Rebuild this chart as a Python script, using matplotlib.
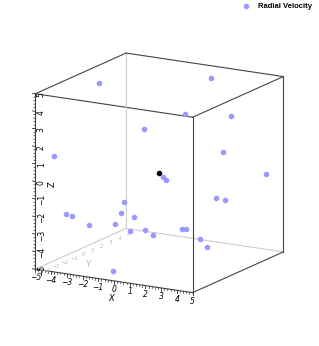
import numpy as np
import matplotlib.pyplot as plt
from mpl_toolkits.mplot3d import proj3d

# positions (depth is a guess)
px = [-4.4, 1.0, 2.8, 4.0, -2.1, -4.4, 0.25, 0.4, 3.5, 4.5, 3.0, 3.0, -4.0, -3.0,
      -4.2, -3.8, -2.2, -2.8, -3.3, -2.45, -1.5, -1.0, 0.86, 1.1, 2.6, 3.0, -0.65]
py = [1, 4, -2, 1, 2, -4, 0, 0, 1, 4, 1, 2, 3, 1,
      -3, -3, 1, 0, -2, 1, 1, 1, 1, 1, 0, 0, -4]
pz = [4.3, 4.6, 4.2, 3.55, 1.75, 1.3, -0.2, -0.35, 1.45, -0.4, -1.25, -1.6, -2.9, -2.9,
      -2.2, -2.3, -3.05, -3.3, -2.95, -3.9, -3.7, -3.9, -3.3, -3.3, -3.45, -3.8, -4.75]
sun = [0.0, 0.0, 0.0]
ticks = list(range(-5, 6))
minor = np.arange(-5, 5.01, 0.2)
lim = 5

fig = plt.figure(figsize=(3.19, 3.46), dpi=100)
ax = fig.add_axes([-0.014, -0.012, 1, 1], projection="3d", proj_type="ortho")
ax.view_init(elev=15, azim=-60)
ax.set_xlim(-lim, lim)
ax.set_ylim(-lim, lim)
ax.set_zlim(-lim, lim)
ax.set_box_aspect((1, 1, 1), zoom=0.957)
ax.set_axis_off()

# box edges: the three meeting at (-5, 5, -5) are behind
lo, hi = -lim, lim
corner = (lo, hi, lo)
for i in (lo, hi):
    for j in (lo, hi):
        for seg in (([lo, hi], [i, i], [j, j]),
                    ([i, i], [lo, hi], [j, j]),
                    ([i, i], [j, j], [lo, hi])):
            back = all(corner[k] in seg[k] for k in range(3))
            ax.plot(*seg, color="#cccccc" if back else "#444444", lw=0.8)

# tick marks on the front bottom edge (x) and front left edge (z)
for t in minor:
    major = abs(t - round(t)) < 1e-6
    ln = 0.16 if major else 0.09
    w = 0.6 if major else 0.45
    ax.plot([t, t], [lo, lo], [lo, lo - ln], color="#222222", lw=w)
    ax.plot([lo, lo - ln * 1.1], [lo, lo], [t, t], color="#222222", lw=w)

ax.scatter(px, py, pz, s=9, color="#9999ff", depthshade=False, label="Radial Velocity")
ax.scatter(*[[v] for v in sun], s=9, color="black", depthshade=False)

# labels: project the 3D anchor once, then place as plain 2D text
M = ax.get_proj()


def label3d(x, y, z, s, **kw):
    u, v, _ = proj3d.proj_transform(x, y, z, M)
    ax.text2D(float(u), float(v), s, transform=ax.transData,
              ha="center", va="center", **kw)


fs = 5.5
for t in ticks:
    lab = str(t).replace("-", "\u2212")
    label3d(t, lo, lo - 0.5, lab, fontsize=fs, style="italic")
    label3d(lo + 0.38, lo, t, lab, fontsize=fs, rotation=90)
    label3d(lo + 0.15, t, lo - 0.3, lab, fontsize=4, color="#bbbbbb", style="italic")
label3d(-0.2, lo, lo - 1.05, "X", fontsize=6, style="italic")
label3d(-4.55, 0, -5.85, "Y", fontsize=6, color="#bbbbbb")
label3d(-3.92, lo, 0, "Z", fontsize=6, rotation=90)

fig.legend(loc="upper right", bbox_to_anchor=(1.0, 1.012), frameon=False,
           handletextpad=0.6, prop={"family": "Liberation Sans", "weight": "bold", "size": 5.5})
fig.savefig("out.png", dpi=100)
